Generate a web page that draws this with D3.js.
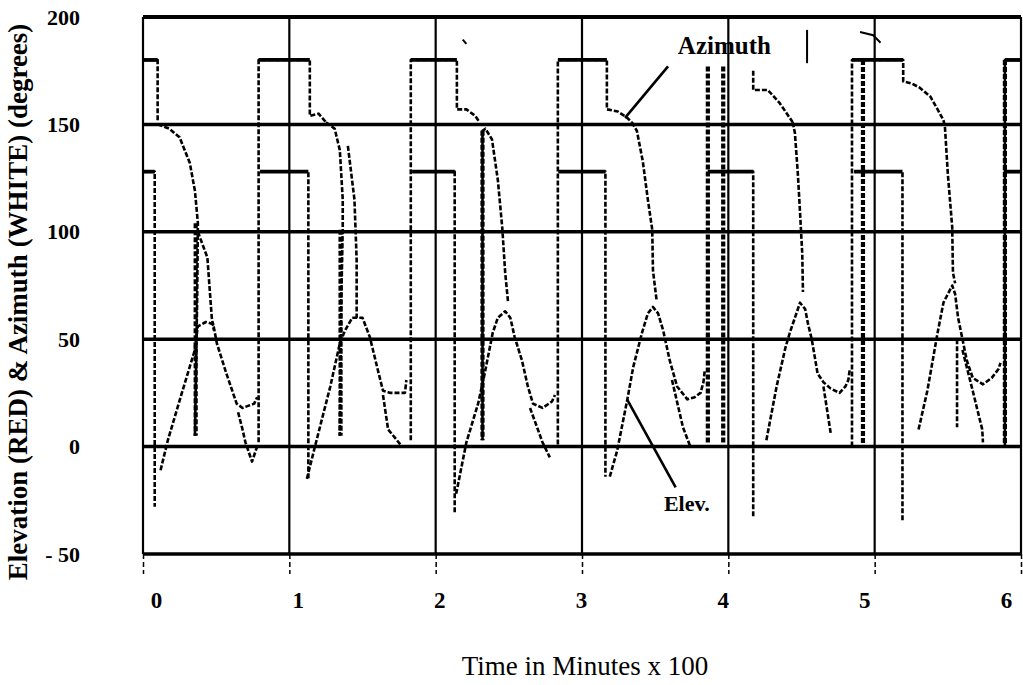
<!DOCTYPE html>
<html><head><meta charset="utf-8">
<script src="https://cdn.jsdelivr.net/npm/d3@7"></script>
<style>
body{margin:0;background:#fff;}
svg text{font-family:"Liberation Serif","Times New Roman",serif;fill:#000;}
</style></head><body>
<svg id="chart" width="1023" height="685"></svg>
<script>
// ---------------- data ----------------
const xTicks = [0,1,2,3,4,5,6];
const yTicks = [-50,0,50,100,150,200];
const xTitle = "Time in Minutes x 100";
const yTitle = "Elevation (RED) & Azimuth (WHITE) (degrees)";

// Azimuth: 180-degree step, drop and shoulder (one segment per pass)
const azimuthHigh = [
  [[0,180],[0.10,180],[0.10,151]],
  [[0.79,2],[0.79,180],[1.14,180],[1.14,154],[1.20,155],[1.25,151]],
  [[1.83,3],[1.83,180],[2.145,180],[2.145,157],[2.21,157],[2.27,154],[2.30,151]],
  [[2.835,1],[2.835,180],[3.17,180],[3.17,157],[3.245,156],[3.31,153],[3.34,151]],
  [[4.17,175],[4.17,166],[4.27,166],[4.35,160],[4.42,153],[4.44,151]],
  [[4.845,0],[4.845,180],[5.195,180],[5.195,170],[5.255,169],[5.31,167],[5.38,163],[5.43,157],[5.47,152]],
  [[5.89,0],[5.89,180],[6,180]]
];
// Azimuth: 128-degree step (one segment per pass)
const azimuthLow = [
  [[0,128],[0.08,128],[0.08,-28]],
  [[0.80,128],[1.13,128],[1.13,-15]],
  [[1.84,128],[2.13,128],[2.13,-31]],
  [[2.84,128],[3.16,128],[3.16,-14]],
  [[3.86,128],[4.17,128],[4.17,-33]],
  [[4.86,128],[5.19,128],[5.19,-35]],
  [[5.89,128],[6,128]]
];
// Azimuth: falling sweep after the shoulder
const azimuthFall = [
  [[0.10,150],[0.18,148],[0.25,144],[0.32,132],[0.355,119],[0.375,104],[0.37,68],[0.355,5]],
  [[1.25,151],[1.31,148],[1.345,138],[1.365,115],[1.365,101],[1.355,68],[1.345,5]],
  [[2.32,3],[2.32,147],[2.34,148],[2.385,143],[2.425,124],[2.455,102],[2.475,81],[2.495,67]],
  [[3.34,151],[3.375,147],[3.415,133],[3.45,115],[3.48,101],[3.485,82],[3.51,68]],
  [[4.44,151],[4.455,146],[4.475,127],[4.49,109],[4.505,90],[4.51,72]],
  [[5.47,152],[5.48,149],[5.50,127],[5.53,102],[5.535,81],[5.55,76]]
];
const azimuthFallBranch = [
  [[0.375,100],[0.44,88],[0.47,60],[0.485,54]],
  [[1.40,140],[1.445,115],[1.46,87],[1.46,60]],
  [[5.563,50],[5.563,9]]
];
// Elevation: rise, peak and settle per pass
const elevationMain = [
  [[0.12,-11],[0.17,3],[0.27,26],[0.35,44],[0.375,56],[0.43,58],[0.48,57],[0.505,48],[0.57,34],[0.64,20],[0.68,18],[0.76,20],[0.78,23]],
  [[1.12,-15],[1.175,0],[1.28,28],[1.345,48],[1.38,54],[1.43,60],[1.50,60],[1.55,51],[1.60,37],[1.64,26],[1.69,25],[1.79,25],[1.80,31]],
  [[2.14,-22],[2.21,2],[2.29,20],[2.335,34],[2.39,53],[2.425,60],[2.475,63],[2.51,60],[2.54,51],[2.59,40],[2.63,28],[2.665,20],[2.73,18],[2.795,21],[2.815,24]],
  [[3.19,-14],[3.24,-2],[3.31,22],[3.35,37],[3.41,53],[3.45,62],[3.485,65],[3.52,62],[3.555,54],[3.60,40],[3.65,28],[3.72,22],[3.77,23],[3.81,25],[3.83,30],[3.84,36]],
  [[4.26,3],[4.33,28],[4.39,46],[4.42,53],[4.49,67],[4.525,64],[4.545,57],[4.57,50],[4.61,34],[4.65,30],[4.70,27],[4.76,25],[4.80,28],[4.82,31],[4.83,36]],
  [[5.30,8],[5.36,26],[5.43,53],[5.47,67],[5.53,75],[5.55,71],[5.57,60],[5.60,50],[5.63,40],[5.67,32],[5.74,29],[5.80,32],[5.845,36],[5.86,39]]
];
const elevationDrop = [
  [[0.65,16],[0.68,8],[0.70,2],[0.745,-7],[0.78,0]],
  [[1.64,24],[1.675,8],[1.735,3],[1.77,0]],
  [[2.645,18],[2.73,2],[2.78,-5]],
  [[3.615,31],[3.69,9],[3.74,0]],
  [[4.65,28],[4.70,6]],
  [[5.60,45],[5.67,26],[5.735,8],[5.74,2]]
];
// heavy (overprinted) vertical traces
const heavyTraces = [
  [[0.36,104],[0.36,5]],
  [[1.35,101],[1.35,5]],
  [[2.32,147],[2.32,3]],
  [[3.86,177],[3.86,1]],
  [[3.965,177],[3.965,1]],
  [[4.92,180],[4.92,1]],
  [[5.89,180],[5.89,0]]
];
// small stray marks printed on the original scan
const scanMarks = [
  [[4.538,194],[4.538,178.5]],
  [[4.90,193],[4.99,191.5],[5.04,188]],
  [[2.185,189.5],[2.21,187.5]]
];
// annotations (data coordinates)
const annotations = [
  {text:"Azimuth", size:25, at:[3.655,183], line:[[3.588,177],[3.294,153]]},
  {text:"Elev.",   size:22, at:[3.56,-30],  line:[[3.308,22],[3.64,-19]]}
];

// ---------------- chart ----------------
const svg = d3.select("#chart");
const x = d3.scaleLinear().domain([0,6]).range([143,1021]);
const y = d3.scaleLinear().domain([-50,200]).range([554,17]);
const xLabelScale = d3.scaleLinear().domain([0,6]).range([156,1006]);

const line = d3.line().x(d=>x(d[0])).y(d=>y(d[1]));

// horizontal grid lines
svg.append("g").selectAll("line").data(yTicks).join("line")
  .attr("x1",x(0)).attr("x2",x(6))
  .attr("y1",d=>y(d)).attr("y2",d=>y(d))
  .attr("stroke","#000").attr("stroke-width",d=>d===200?4:3.5);

// vertical grid lines
svg.append("g").selectAll("line").data(xTicks).join("line")
  .attr("x1",d=>x(d)).attr("x2",d=>x(d))
  .attr("y1",y(200)).attr("y2",y(-50))
  .attr("stroke","#000").attr("stroke-width",2.2);

// x axis dashed ticks
const xAxis = svg.append("g").attr("transform",`translate(0,${y(-50)})`)
  .call(d3.axisBottom(x).tickValues(xTicks).tickSize(20).tickFormat(""));
xAxis.select(".domain").remove();
xAxis.selectAll(".tick line").attr("stroke","#000").attr("stroke-width",1.5).attr("stroke-dasharray","5,3");

// x tick labels
const xLab = svg.append("g").attr("transform","translate(0,615)")
  .call(d3.axisBottom(xLabelScale).tickValues(xTicks).tickSize(0).tickPadding(0).tickFormat(d3.format("d")));
xLab.select(".domain").remove();
xLab.selectAll("text").attr("font-size",23).attr("font-weight","bold")
  .attr("font-family","'Liberation Serif',serif").attr("dy","-0.3em");

// y tick labels
const yLab = svg.append("g").attr("transform","translate(80,0)")
  .call(d3.axisLeft(y).tickValues(yTicks).tickSize(0).tickPadding(0)
    .tickFormat(d=> d<0 ? "- "+Math.abs(d) : String(d)));
yLab.select(".domain").remove();
yLab.selectAll("text").attr("font-size",22).attr("font-weight","bold")
  .attr("font-family","'Liberation Serif',serif");

// titles
svg.append("text").attr("x",585).attr("y",675).attr("text-anchor","middle")
  .attr("font-size",27).text(xTitle);
svg.append("text").attr("transform","translate(27,302) rotate(-90)")
  .attr("text-anchor","middle").attr("font-size",27).attr("font-weight","bold").text(yTitle);

// traces
function drawTraces(data, width){
  svg.append("g").selectAll("path").data(data).join("path")
    .attr("d",line).attr("fill","none").attr("stroke","#000")
    .attr("stroke-width",width).attr("stroke-dasharray","5,2")
    .attr("stroke-linejoin","round");
}
drawTraces(azimuthHigh,2.6);
drawTraces(azimuthLow,2.6);
drawTraces(azimuthFall,2.6);
drawTraces(azimuthFallBranch,2.6);
drawTraces(elevationMain,2.6);
drawTraces(elevationDrop,2.6);
drawTraces(heavyTraces,4.2);

// flat step tops (180 and 128 levels) print as solid bars
const stepTops = [];
azimuthHigh.concat(azimuthLow).forEach(seg=>{
  for(let i=1;i<seg.length;i++){
    const a=seg[i-1], b=seg[i];
    if(a[1]===b[1] && (a[1]===180 || a[1]===128)) stepTops.push([a,b]);
  }
});
svg.append("g").selectAll("path").data(stepTops).join("path")
  .attr("d",line).attr("fill","none").attr("stroke","#000").attr("stroke-width",3.8);

// stray scan marks
svg.append("g").selectAll("path").data(scanMarks).join("path")
  .attr("d",line).attr("fill","none").attr("stroke","#000").attr("stroke-width",2);

// annotations
annotations.forEach(a=>{
  svg.append("path").attr("d",line(a.line)).attr("stroke","#000").attr("stroke-width",2.6).attr("fill","none");
  svg.append("text").attr("x",x(a.at[0])).attr("y",y(a.at[1]))
    .attr("font-size",a.size).attr("font-weight","bold").text(a.text);
});
</script>
</body></html>
